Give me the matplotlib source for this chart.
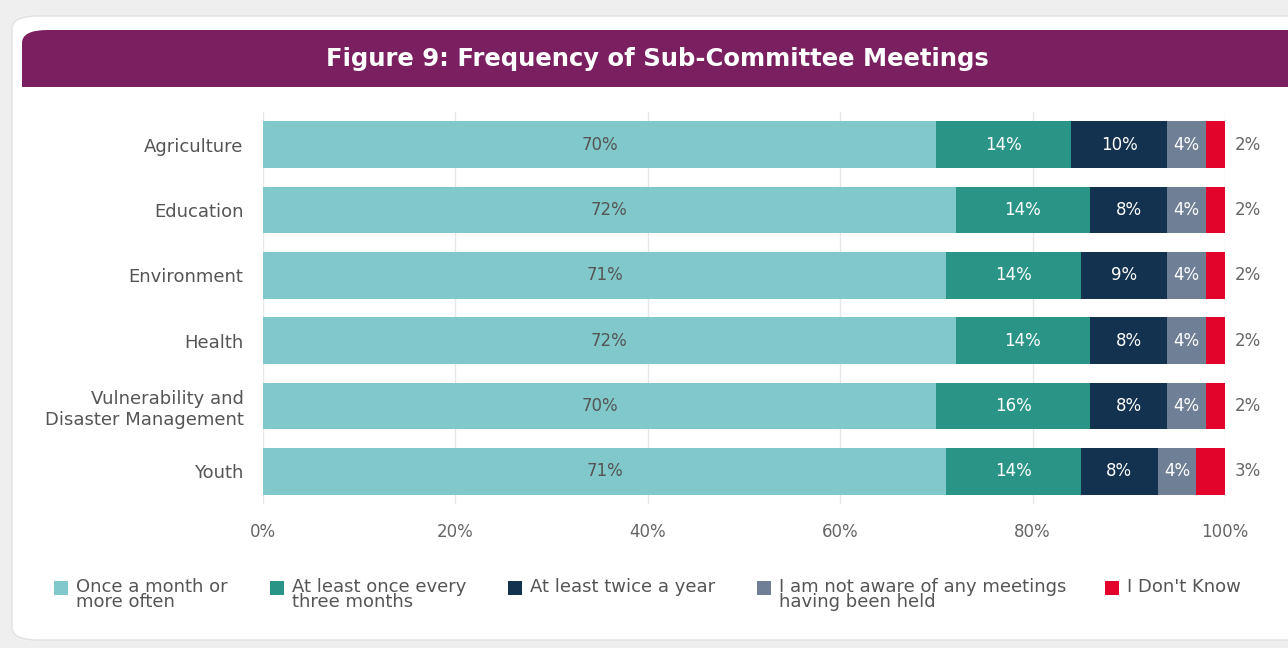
import matplotlib
matplotlib.use("Agg")
import matplotlib.pyplot as plt
from matplotlib.patches import FancyBboxPatch, Rectangle

plt.rcParams['font.family'] = ['DejaVu Sans']

categories = ["Agriculture", "Education", "Environment", "Health",
              "Vulnerability and\nDisaster Management", "Youth"]
series_names = ["Once a month or\nmore often", "At least once every\nthree months",
                "At least twice a year", "I am not aware of any meetings\nhaving been held",
                "I Don't Know"]
once_month = [70, 72, 71, 72, 70, 71]
three_months = [14, 14, 14, 14, 16, 14]
twice_year = [10, 8, 9, 8, 8, 8]
not_aware = [4, 4, 4, 4, 4, 4]
dont_know = [2, 2, 2, 2, 2, 3]
series = [once_month, three_months, twice_year, not_aware, dont_know]
colors = ["#80c8ca", "#2a9487", "#12324f", "#6f7f96", "#e3042b"]
label_colors = ["#555555", "white", "white", "white", "#666666"]
xticks = [0, 20, 40, 60, 80, 100]
title = "Figure 9: Frequency of Sub-Committee Meetings"

W, H = 1288, 648
fig = plt.figure(figsize=(W / 100, H / 100), dpi=100)
fig.patch.set_facecolor("#efefef")

# card
card = FancyBboxPatch((12 / W, 8 / H), 1.2, (632 - 8) / H,
                      boxstyle="round,pad=0,rounding_size=0.02",
                      transform=fig.transFigure, facecolor="white",
                      edgecolor="#e2e2e2", lw=1, zorder=-10)
fig.patches.append(card)
header = FancyBboxPatch((22 / W, (H - 87) / H), 1.2, 57 / H,
                        boxstyle="round,pad=0,rounding_size=0.02",
                        transform=fig.transFigure, facecolor="#7a1f5f",
                        edgecolor="none", zorder=-9)
fig.patches.append(header)
fig.patches.append(Rectangle((22 / W, (H - 87) / H), 1.2, 20 / H,
                             transform=fig.transFigure, facecolor="#7a1f5f",
                             edgecolor="none", zorder=-9))
fig.text(657 / W, 1 - 59 / H, title, color="white", fontsize=17.5,
         fontweight="bold", ha="center", va="center", zorder=2)

ax = fig.add_axes([263 / W, 1 - 504 / H, (1225 - 263) / W, (504 - 112) / H])
ax.set_zorder(5)
ax.set_facecolor("none")
y = list(range(len(categories)))
left = [0] * len(categories)
for si, vals in enumerate(series):
    ax.barh(y, vals, left=left, height=0.71, color=colors[si], zorder=3,
            label=series_names[si])
    for i, v in enumerate(vals):
        if si == 4:
            ax.text(left[i] + v + 1.0, i, f"{v}%", ha="left", va="center",
                    fontsize=12, color=label_colors[si], zorder=4)
        else:
            ax.text(left[i] + v / 2, i, f"{v}%", ha="center", va="center",
                    fontsize=12, color=label_colors[si], zorder=4)
    left = [l + v for l, v in zip(left, vals)]

ax.set_xlim(0, 100)
ax.set_ylim(len(categories) - 0.5, -0.5)
ax.set_yticks(y)
ax.set_yticklabels(categories, fontsize=13, color="#555555")
ax.set_xticks(xticks)
ax.set_xticklabels([f"{t}%" for t in xticks], fontsize=12, color="#666666")
ax.tick_params(length=0)
ax.tick_params(axis="y", pad=14)
ax.tick_params(axis="x", pad=14)
for s in ax.spines.values():
    s.set_visible(False)
ax.xaxis.grid(True, color="#e6e6e6", lw=1, zorder=0)
ax.set_axisbelow(True)

# legend
leg_x = [54, 270, 508, 757, 1105]
for xpx, name, c in zip(leg_x, series_names, colors):
    fig.patches.append(Rectangle((xpx / W, 1 - 595 / H), 14 / W, 14 / H,
                                 transform=fig.transFigure, facecolor=c,
                                 edgecolor="none", zorder=3))
    fig.text((xpx + 22) / W, 1 - 578 / H, name, fontsize=13, color="#555555",
             ha="left", va="top", linespacing=0.8, zorder=3)

fig.savefig("out.png", dpi=100, facecolor=fig.get_facecolor())
